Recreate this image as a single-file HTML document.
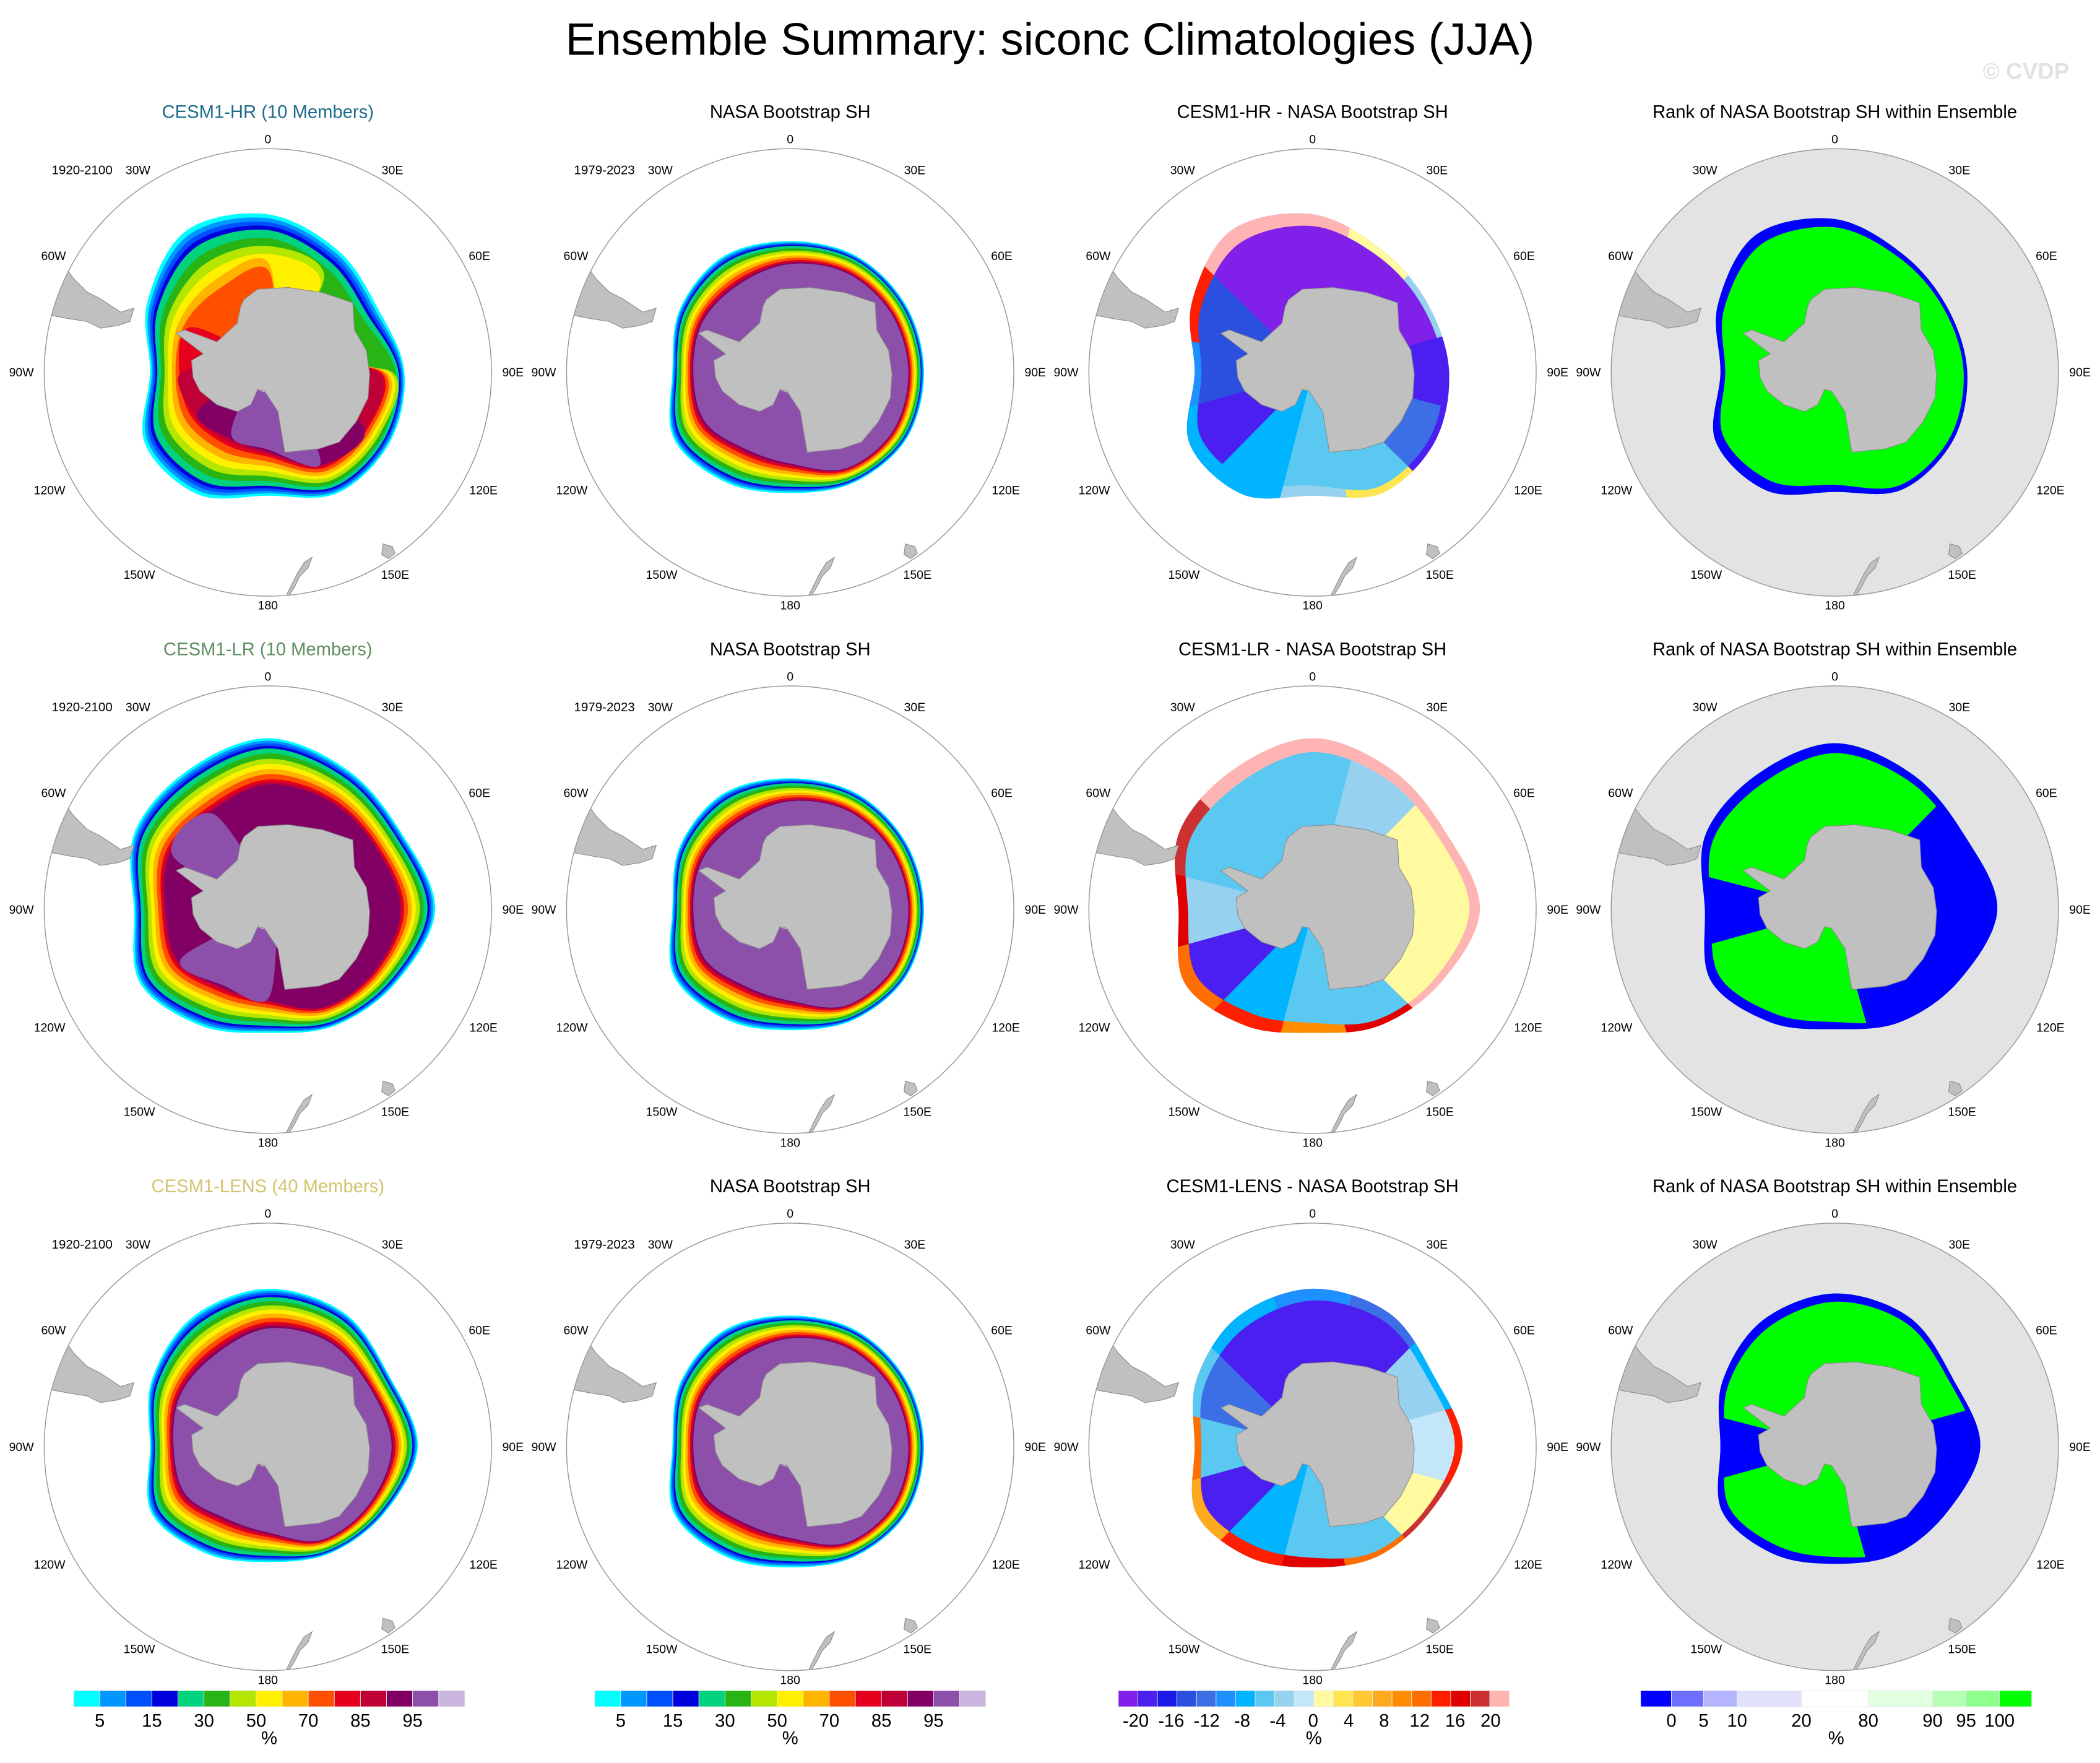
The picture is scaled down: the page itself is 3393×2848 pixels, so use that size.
<!DOCTYPE html>
<html><head><meta charset="utf-8"><title>Ensemble Summary siconc</title>
<style>html,body{margin:0;padding:0;background:#fff;}svg{display:block;}</style></head>
<body>
<svg id="fig" xmlns="http://www.w3.org/2000/svg" width="3393" height="2848" viewBox="0 0 1568 1316" preserveAspectRatio="none" font-family="Liberation Sans, sans-serif">
<rect width="1568" height="1316" fill="#fff"/>
<text x="784" y="41" font-size="34" text-anchor="middle">Ensemble Summary: siconc Climatologies (JJA)</text>
<text x="1545" y="59" font-size="17" font-weight="bold" fill="#e2e2e2" text-anchor="end">© CVDP</text>
</svg>
<script>
// ---- data (display px from pole, longitudes every 30°, 0 = top, clockwise = east) ----
const angles = [0,30,60,90,120,150,180,210,240,270,300,330];
const coastRadius = [63,70,74,76,76,70,45,36,46,56,55,51];
const hrEdge   = [118,105,95,102,105,104,92,105,106,88,104,122];
const nasaEdge = [98,100,100,100,100,95,90,95,100,88,95,100];
const lrEdge   = [128,120,115,125,110,100,92,100,110,100,115,120];
const lensEdge = [118,115,105,112,100,92,86,92,100,88,100,112];
const hrCore   = [70,50,35,88,90,95,97,97,90,88,80,75];
const nasaCore = [97,97,97,97,97,97,97,97,97,97,97,97];
const lrCore   = [93,92,92,93,92,93,97,97,97,93,97,97];
const lensCore = [97,96,95,96,95,97,97,97,97,95,97,97];
const diffHRInterior = [-22,-22,-22,-20,-12,-6,-6,-8,-18,-14,-14,-22];
const diffHRRim      = [20,2,-4,-20,-20,4,-4,-8,-8,-10,14,20];
const diffLRInterior = [-6,-4,0,2,2,-6,-6,-8,-20,-4,-6,-6];
const diffLRRim      = [20,20,20,20,20,16,10,14,12,16,18,20];
const diffLENSInterior = [-20,-20,-4,-2,2,-6,-6,-8,-20,-6,-12,-20];
const diffLENSRim      = [-10,-12,-8,14,18,12,16,14,8,12,-6,-8];
const rankHR   = [100,100,100,100,100,100,100,100,100,100,100,100];
const rankLR   = [100,100,0,0,0,0,100,100,100,0,100,100];
const rankLENS = [100,100,100,0,0,0,100,100,100,0,100,100];
const concLevels = [5,10,15,20,30,40,50,60,70,80,85,90,95,99];
const concColors = ["#00ffff","#0096ff","#0050ff","#0000dc","#00d27d","#28b414","#b4e600","#fff000","#ffb400","#ff5000","#e6001e","#be0037","#820064","#8c50aa","#c8b4dc"];
const concTicks = [5,15,30,50,70,85,95];
const diffColors = ["#8020e8","#4b1ff0","#1a1ae6","#2b50e0","#3c6ee6","#1e90ff","#00b4ff","#5ac8f0","#96d2f0","#c3e6f8","#fffaa0","#ffe650","#ffc832","#ffaa1e","#ff8c00","#ff6e00","#ff1e00","#e00000","#cc3030","#ffb4b4"];
const diffTicks = [-20,-16,-12,-8,-4,0,4,8,12,16,20];
const rankBounds = [0,5,10,20,80,90,95,100];
const rankColors = ["#0000ff","#6e6eff","#b4b4ff","#e1e1fa","#ffffff","#e1ffe1","#b4ffb4","#8cff8c","#00ff00"];

const NS="http://www.w3.org/2000/svg";
const svg=document.getElementById('fig');
const colX=[200,590,980,1370], rowY=[278,679,1080], R=167;
function el(tag,attrs,parent){const e=document.createElementNS(NS,tag);for(const k in attrs)e.setAttribute(k,attrs[k]);(parent||svg).appendChild(e);return e;}
function pt(cx,cy,r,deg){const a=deg*Math.PI/180;return [cx+r*Math.sin(a),cy-r*Math.cos(a)];}
function smooth(p){const n=p.length;let d="M"+p[0][0].toFixed(1)+","+p[0][1].toFixed(1);
 for(let i=0;i<n;i++){const p0=p[(i-1+n)%n],p1=p[i],p2=p[(i+1)%n],p3=p[(i+2)%n];
  const c1=[p1[0]+(p2[0]-p0[0])/6,p1[1]+(p2[1]-p0[1])/6],c2=[p2[0]-(p3[0]-p1[0])/6,p2[1]-(p3[1]-p1[1])/6];
  d+="C"+c1.map(v=>v.toFixed(1))+" "+c2.map(v=>v.toFixed(1))+" "+p2[0].toFixed(1)+","+p2[1].toFixed(1);}
 return d+"Z";}
function ringPath(cx,cy,radii){return smooth(angles.map((a,i)=>pt(cx,cy,radii[i],a)));}
function wedge(cx,cy,a0,a1,r){const p0=pt(cx,cy,r,a0),p1=pt(cx,cy,r,a1);return "M"+cx+","+cy+"L"+p0.join(",")+"A"+r+","+r+" 0 0 1 "+p1.join(",")+"Z";}
function diffColor(v){let i=Math.floor((v+20)/40*18)+1;return diffColors[Math.max(0,Math.min(19,i))];}
function rankColor(v){let i=0;while(i<rankBounds.length&&v>rankBounds[i])i++;if(v>=100)i=8;return rankColors[Math.min(8,i)];}
let clipId=0;

const antarctica=[[-17.7,-54.5],[-7.6,-62.1],[15.2,-63.4],[40.6,-59.6],[63.4,-52],[64.6,-31.7],[73.5,-16.5],[76,1.3],[74.8,19],[65.9,36.8],[53.2,52],[38,57],[12.7,59.6],[10.1,44.4],[7.6,29.2],[-2.5,13.9],[-7.6,12.7],[-12.7,24.1],[-22.8,29.2],[-38,24.1],[-50.7,13.9],[-55.8,3.8],[-57,-8.9],[-48.2,-13.9],[-58.3,-21.5],[-68.4,-29.2],[-62.1,-31.7],[-48.2,-26.6],[-38,-22.8],[-22.8,-36.8],[-20.3,-49.4]];
const southAmerica=[[-175,-62],[-150,-77],[-145,-70],[-135,-60],[-125,-55],[-110,-45],[-100,-48],[-103,-38],[-112,-35],[-125,-33],[-135,-38],[-148,-40],[-175,-45]];
const newZealand=[[33,138],[30,146],[24,152],[20,160],[15,168],[12,170],[17,160],[22,150],[27,142]];
const tasmania=[[86,128],[93,130],[95,135],[90,139],[85,136]];
function poly(cx,cy,pts){return "M"+pts.map(p=>(cx+p[0]).toFixed(1)+","+(cy+p[1]).toFixed(1)).join("L")+"Z";}

function drawLand(g,cx,cy){
 const cid="cc"+(clipId++);
 const cp=el('clipPath',{id:cid},g);el('circle',{cx:cx,cy:cy,r:R},cp);
 const lg=el('g',{'clip-path':'url(#'+cid+')'},g);
 
 const a=el('path',{d:poly(cx,cy,antarctica),fill:"#c0c0c0",stroke:"#8a8a8a","stroke-width":0.5},lg);
 
 const s=el('path',{d:poly(cx,cy,southAmerica),fill:"#c0c0c0",stroke:"#8a8a8a","stroke-width":0.5},lg);
 
 const n=el('path',{d:poly(cx,cy,newZealand),fill:"#c0c0c0",stroke:"#8a8a8a","stroke-width":0.5},lg);
 
 const t=el('path',{d:poly(cx,cy,tasmania),fill:"#c0c0c0",stroke:"#8a8a8a","stroke-width":0.5},lg);
 
}
function drawFrame(g,cx,cy,years){
 const c=el('circle',{cx:cx,cy:cy,r:R,fill:"none",stroke:"#9a9a9a","stroke-width":0.7},g);
 
 const labs=[["0",0,104],["30E",93,127],["60E",158,191],["90E",183,278],["120E",161,366],["150E",95,429],["180",0,452],["150W",-96,429],["120W",-163,366],["90W",-184,278],["60W",-160,191],["30W",-97,127]];
 labs.forEach(l=>{const t=el('text',{x:cx+l[1],y:rowBase(cy)+l[2]+3,"font-size":9,"text-anchor":"middle"},g);t.textContent=l[0];
  });
 if(years){const t=el('text',{x:cx-116,y:rowBase(cy)+130,"font-size":9.5,"text-anchor":"end"},g);t.textContent=years;
  }
}
function rowBase(cy){return cy-278;}
function title(g,cx,cy,txt,color){const t=el('text',{x:cx,y:cy-190,"font-size":13.5,"text-anchor":"middle",fill:color},g);t.textContent=txt;
 }

function concPanel(cx,cy,edge,core,ramp,name){
 const g=el('g',{});
 for(let k=0;k<concColors.length;k++){
  const radii=angles.map((a,i)=>{if(k===0)return edge[i];const thr=concLevels[k-1];if(core[i]<thr)return 15;
   const f=Math.min(1,thr/core[i]*ramp);return edge[i]-(edge[i]-coastRadius[i])*f;});
  const p=el('path',{d:ringPath(cx,cy,radii),fill:concColors[k]},g);
  
 }
 drawLand(g,cx,cy);return g;
}
function diffPanel(cx,cy,edgeA,edgeB,interior,rim,name){
 const g=el('g',{});
 const edge=angles.map((a,i)=>Math.max(edgeA[i],edgeB[i]));
 const cid="cd"+(clipId++);const cp=el('clipPath',{id:cid},g);el('path',{d:ringPath(cx,cy,edge)},cp);
 const ig=el('g',{'clip-path':'url(#'+cid+')'},g);
 angles.forEach((a,i)=>{const w=el('path',{d:wedge(cx,cy,a-15.5,a+15.5,R),fill:diffColor(interior[i])},ig);
  });
 const rid="cr"+(clipId++);const rp=el('clipPath',{id:rid},g);
 el('path',{d:ringPath(cx,cy,edge)+ringPath(cx,cy,edge.map((e,i)=>e-(e-coastRadius[i])*0.16)),"clip-rule":"evenodd"},rp);
 const rg=el('g',{'clip-path':'url(#'+rid+')'},g);
 angles.forEach((a,i)=>{const w=el('path',{d:wedge(cx,cy,a-15.5,a+15.5,R),fill:diffColor(rim[i])},rg);
  });
 drawLand(g,cx,cy);return g;
}
function rankPanel(cx,cy,edgeA,edgeB,rank,name){
 const g=el('g',{});
 const d=el('circle',{cx:cx,cy:cy,r:R,fill:"#e3e3e3"},g);
 const edge=angles.map((a,i)=>Math.max(edgeA[i],edgeB[i])*0.97);
 const cid="ck"+(clipId++);const cp=el('clipPath',{id:cid},g);el('path',{d:ringPath(cx,cy,edge)},cp);
 const ig=el('g',{'clip-path':'url(#'+cid+')'},g);
 angles.forEach((a,i)=>{const w=el('path',{d:wedge(cx,cy,a-15.5,a+15.5,R),fill:rankColor(rank[i])},ig);
  });
 const rim=el('path',{d:ringPath(cx,cy,edge)+ringPath(cx,cy,edge.map((e,i)=>e-(e-coastRadius[i])*0.12)),"fill-rule":"evenodd",fill:rankColors[0]},g);
 
 drawLand(g,cx,cy);return g;
}

const models=[["CESM1-HR (10 Members)","#1e6b8c",hrEdge,hrCore,0.75,diffHRInterior,diffHRRim,rankHR,"CESM1-HR - NASA Bootstrap SH"],
 ["CESM1-LR (10 Members)","#5f8f5f",lrEdge,lrCore,0.55,diffLRInterior,diffLRRim,rankLR,"CESM1-LR - NASA Bootstrap SH"],
 ["CESM1-LENS (40 Members)","#d2c46e",lensEdge,lensCore,0.55,diffLENSInterior,diffLENSRim,rankLENS,"CESM1-LENS - NASA Bootstrap SH"]];
models.forEach((m,r)=>{
 const cy=rowY[r];
 let g=concPanel(colX[0],cy,m[2],m[3],m[4],'model-panel');drawFrame(g,colX[0],cy,"1920-2100");title(g,colX[0],cy,m[0],m[1]);
 g=concPanel(colX[1],cy,nasaEdge,nasaCore,0.5,'obs-panel');drawFrame(g,colX[1],cy,"1979-2023");title(g,colX[1],cy,"NASA Bootstrap SH","#000");
 g=diffPanel(colX[2],cy,m[2],nasaEdge,m[5],m[6],'difference-panel');drawFrame(g,colX[2],cy,null);title(g,colX[2],cy,m[8],"#000");
 g=rankPanel(colX[3],cy,m[2],nasaEdge,m[7],'rank-panel');drawFrame(g,colX[3],cy,null);title(g,colX[3],cy,"Rank of NASA Bootstrap SH within Ensemble","#000");
});

// ---- colorbars ----
function cbar(x0,widths,colors,ticks,tickX,name){
 const g=el('g',{});
 let x=x0;colors.forEach((c,i)=>{const b=el('rect',{x:x,y:1262,width:widths[i],height:12,fill:c,stroke:"#e8e8e8","stroke-width":0.4},g);
  x+=widths[i];});
 ticks.forEach((t,i)=>{const l=el('text',{x:tickX[i],y:1289,"font-size":13.5,"text-anchor":"middle"},g);l.textContent=t;
  });
 const mid=x0+(x-x0)/2;const u=el('text',{x:mid,y:1302,"font-size":13.5,"text-anchor":"middle"},g);u.textContent="%";
 
}
const cw=292/15;
[55,444].forEach((x0,j)=>cbar(x0,concColors.map(()=>cw),concColors,concTicks,concTicks.map((t,i)=>x0+cw*(2*i+1)),j?'obs-colorbar':'model-colorbar'));
const dw=292/20;
cbar(835,diffColors.map(()=>dw),diffColors,diffTicks,diffTicks.map((t,i)=>848+i*26.5),'difference-colorbar');
cbar(1225,[23,24,25,48,50,48,25,25,24],rankColors,[0,5,10,20,80,90,95,100],[1248,1272,1297,1345,1395,1443,1468,1493],'rank-colorbar');
</script>
</body></html>
